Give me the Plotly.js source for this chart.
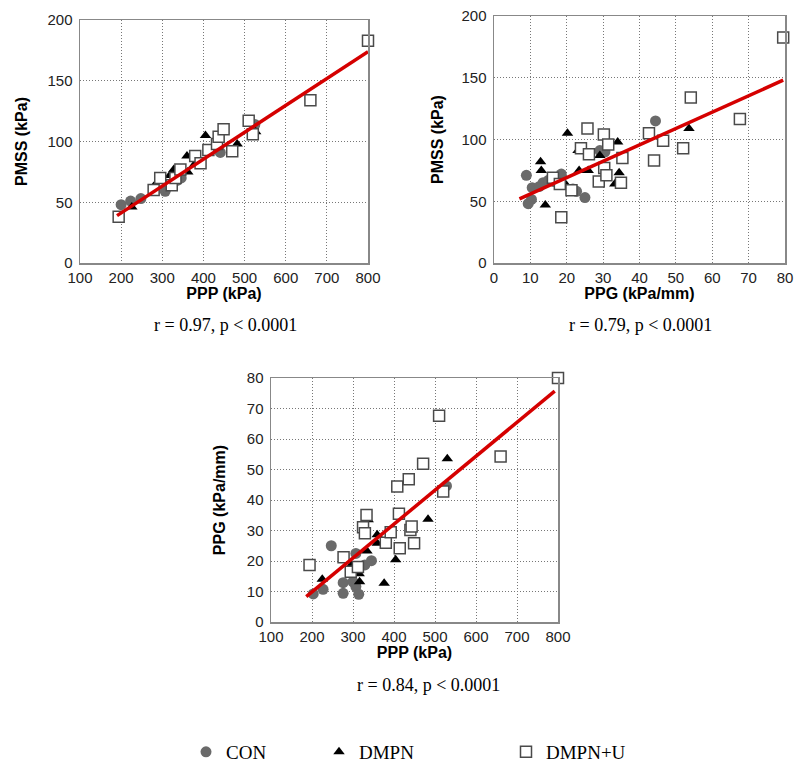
<!DOCTYPE html>
<html>
<head>
<meta charset="utf-8">
<script src="https://cdn.plot.ly/plotly-3.0.1.min.js"></script>
<style>html,body{margin:0;padding:0;background:#fff;}#chart{width:800px;height:774px;}</style>
</head>
<body>
<div id="chart"></div>
<script>
// ---- Panel A: PPP (x) vs PMSS (y) ----
const a_con_x  = [200, 223, 248, 307, 336, 346, 441, 525];
const a_con_y  = [48, 51, 53, 59, 68, 70, 91, 114];
const a_dmpn_x = [226, 279, 318, 328, 362, 360, 378, 405, 482, 527];
const a_dmpn_y = [46, 63, 72, 77, 75, 88, 81, 105, 98, 108];
const a_u_x    = [194, 279, 295, 323, 332, 344, 380, 393, 412, 433, 437, 449, 470, 510, 520, 660, 800];
const a_u_y    = [38, 60, 70, 64, 70, 77, 88, 82, 93, 98, 104, 110, 92, 117, 106, 134, 183];
const a_fit_x  = [190, 800];
const a_fit_y  = [39, 174];

// ---- Panel B: PPG (x) vs PMSS (y) ----
const b_con_x  = [8.9, 10.3, 9.4, 10.5, 12.5, 13.5, 15, 16.5, 18.5, 21.7, 22.7, 25, 29.1, 30.5, 44.4];
const b_con_y  = [71, 51.5, 48, 61, 62, 65, 67, 66, 72, 60, 58, 53, 91, 90, 115];
const b_dmpn_x = [12.8, 13, 14.1, 19.9, 20.2, 23.1, 23.4, 25.9, 29.1, 33.2, 34.4, 34, 53.6];
const b_dmpn_y = [82, 75, 47, 63, 105, 91, 75, 75, 87, 64, 73, 98, 109];
const b_u_x    = [16.2, 18.1, 18.5, 21.3, 23.9, 25.7, 26.1, 28.8, 30.2, 30.3, 30.9, 31.4, 34.9, 35.3, 42.6, 44, 46.5, 52, 54.1, 67.6, 79.5];
const b_u_y    = [69, 64, 37, 59, 93, 109, 88, 66, 104, 77, 71, 96, 65, 85, 105, 83, 99, 93, 134, 116.5, 182.5];
const b_fit_x  = [7, 79.5];
const b_fit_y  = [52, 148];

// ---- Panel C: PPP (x) vs PPG (y) ----
const c_con_x  = [203, 227, 247, 276, 276, 300, 307, 307, 314, 329, 345, 528];
const c_con_y  = [9.2, 10.7, 25, 12.9, 9.4, 13.2, 22.5, 11.6, 9.1, 18.7, 20.1, 44.6];
const c_dmpn_x = [225, 296, 315, 316, 334, 337, 359, 359, 376, 404, 483, 530];
const c_dmpn_y = [14, 18.7, 15.8, 13.2, 23.3, 33.5, 28.6, 25.8, 12.7, 20.4, 33.7, 53.5];
const c_u_x    = [194, 277, 294.5, 312, 324.5, 329, 333, 380, 392, 408, 412, 414, 436, 440, 443, 449, 471, 510, 520, 660, 800];
const c_u_y    = [18.7, 21.2, 16.5, 18, 31.1, 29.1, 35.1, 26, 29.4, 44.4, 35.5, 24.2, 46.8, 30.2, 31.3, 25.8, 51.9, 67.6, 42.8, 54.3, 80];
const c_fit_x  = [186, 792];
const c_fit_y  = [8.3, 75.7];

const groupNames = ['CON', 'DMPN', 'DMPN+U'];
const statLabels = ['r = 0.97, p < 0.0001', 'r = 0.79, p < 0.0001', 'r = 0.84, p < 0.0001'];

const styleCon  = {symbol: 'circle', size: 11, color: '#6a6a6a', line: {width: 0}};
const styleDmpn = {symbol: 'triangle-up', size: 10, color: '#000000', line: {width: 0}};
const uFill     = {symbol: 'square', size: 11, color: '#ffffff', line: {width: 1.5, color: '#4a4a4a'}};

function sc(x, y, xa, ya, name, marker, show, legendId) {
  return {type: 'scatter', mode: 'markers', x: x, y: y, xaxis: xa, yaxis: ya, cliponaxis: false,
          name: name, marker: marker, showlegend: show, legend: legendId, hoverinfo: 'skip'};
}
function fit(x, y, xa, ya) {
  return {type: 'scatter', mode: 'lines', x: x, y: y, xaxis: xa, yaxis: ya,
          line: {color: '#d50000', width: 3.5}, showlegend: false, hoverinfo: 'skip'};
}

const data = [
  sc(a_con_x, a_con_y, 'x', 'y', groupNames[0], styleCon, true, 'legend'),
  sc(a_dmpn_x, a_dmpn_y, 'x', 'y', groupNames[1], styleDmpn, true, 'legend2'),
  sc(a_u_x, a_u_y, 'x', 'y', groupNames[2], uFill, true, 'legend3'),
  fit(a_fit_x, a_fit_y, 'x', 'y'),
  sc(b_con_x, b_con_y, 'x2', 'y2', groupNames[0], styleCon, false),
  sc(b_dmpn_x, b_dmpn_y, 'x2', 'y2', groupNames[1], styleDmpn, false),
  sc(b_u_x, b_u_y, 'x2', 'y2', groupNames[2], uFill, false),
  fit(b_fit_x, b_fit_y, 'x2', 'y2'),
  sc(c_con_x, c_con_y, 'x3', 'y3', groupNames[0], styleCon, false),
  sc(c_dmpn_x, c_dmpn_y, 'x3', 'y3', groupNames[1], styleDmpn, false),
  sc(c_u_x, c_u_y, 'x3', 'y3', groupNames[2], uFill, false),
  fit(c_fit_x, c_fit_y, 'x3', 'y3')
];

const tickFont = {family: 'Liberation Sans, Arial, sans-serif', size: 15, color: '#222'};
const titleFont = {family: 'Liberation Sans, Arial, sans-serif', size: 16, color: '#000', weight: 'bold'};
function ax(domain, range, dtick, title, anchor, standoff, lblOff) {
  return {domain: domain, range: range, dtick: dtick, tick0: 0, anchor: anchor,
          showgrid: true, gridcolor: '#777', griddash: '1px,2px', gridwidth: 1,
          zeroline: false, showline: true, mirror: true, linecolor: '#888', linewidth: 1.5,
          ticks: '', tickfont: tickFont, automargin: false, fixedrange: true,
          ticklabelstandoff: lblOff,
          title: {text: title, font: titleFont, standoff: standoff}};
}

const serif = 'Liberation Serif, Times New Roman, serif';
const legendBase = {orientation: 'h', yanchor: 'middle', y: 1 - 752/774, xanchor: 'left',
                    font: {family: serif, size: 19, color: '#000'}, bgcolor: 'rgba(0,0,0,0)', borderwidth: 0};

const layout = {
  width: 800, height: 774,
  margin: {l: 0, r: 0, t: 0, b: 0},
  paper_bgcolor: '#fff', plot_bgcolor: '#fff',
  xaxis:  ax([80/800, 368/800], [100, 800], 100, 'PPP (kPa)', 'y', 2, 0),
  yaxis:  ax([1 - 263/774, 1 - 20/774], [0, 200], 50, 'PMSS (kPa)', 'x', 16, 3),
  xaxis2: ax([494/800, 785/800], [0, 80], 10, 'PPG (kPa/mm)', 'y2', 2, 0),
  yaxis2: ax([1 - 263/774, 1 - 16/774], [0, 200], 50, 'PMSS (kPa)', 'x2', 14, 3),
  xaxis3: ax([271/800, 558/800], [100, 800], 100, 'PPP (kPa)', 'y3', 2, 0),
  yaxis3: ax([1 - 622/774, 1 - 378/774], [0, 80], 10, 'PPG (kPa/mm)', 'x3', 17, 3),
  legend:  Object.assign({}, legendBase, {x: (208 - 22)/800}),
  legend2: Object.assign({}, legendBase, {x: (341 - 22)/800}),
  legend3: Object.assign({}, legendBase, {x: (528 - 22)/800}),
  annotations: [
    {text: statLabels[0], xref: 'paper', yref: 'paper', x: 225/800, y: 1 - 325/774, showarrow: false,
     xanchor: 'center', yanchor: 'middle', font: {family: serif, size: 18, color: '#000'}},
    {text: statLabels[1], xref: 'paper', yref: 'paper', x: 640/800, y: 1 - 325/774, showarrow: false,
     xanchor: 'center', yanchor: 'middle', font: {family: serif, size: 18, color: '#000'}},
    {text: statLabels[2], xref: 'paper', yref: 'paper', x: 428/800, y: 1 - 685/774, showarrow: false,
     xanchor: 'center', yanchor: 'middle', font: {family: serif, size: 18, color: '#000'}}
  ]
};

Plotly.newPlot('chart', data, layout, {displayModeBar: false, staticPlot: true});
</script>
</body>
</html>
